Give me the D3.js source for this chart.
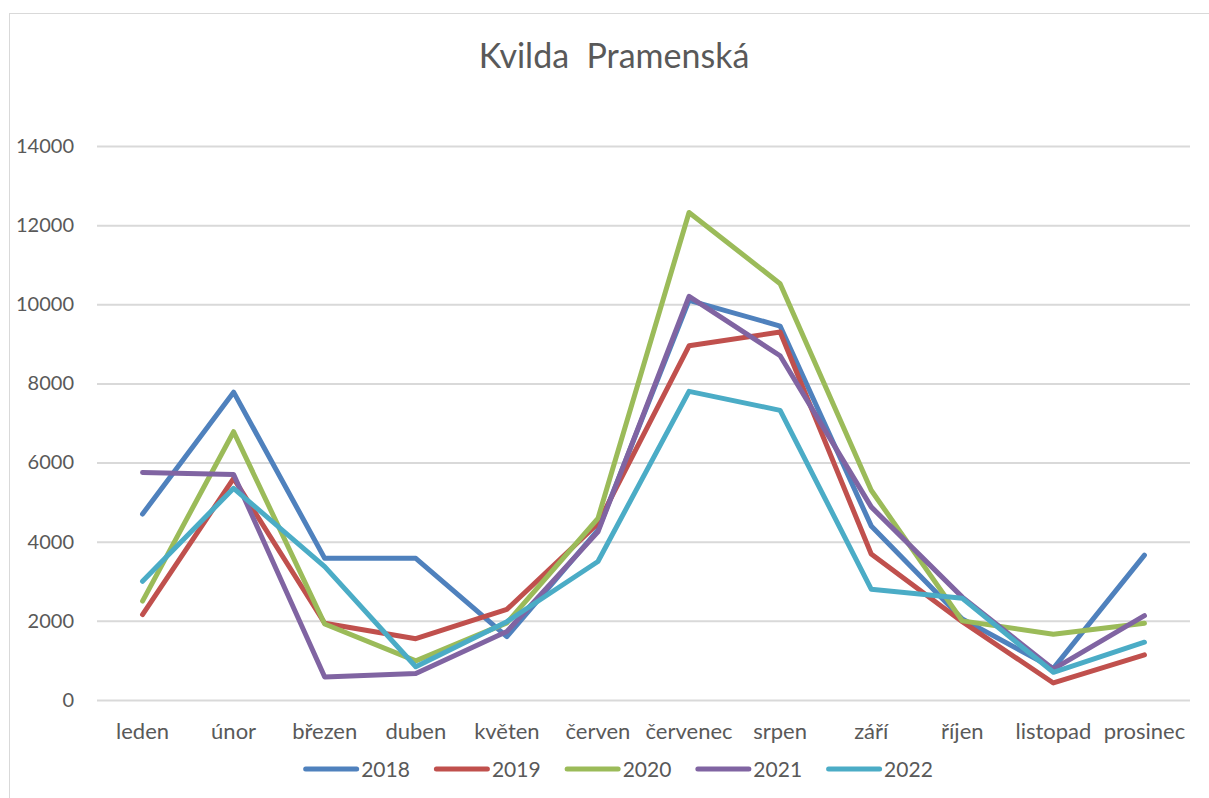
<!DOCTYPE html>
<html>
<head>
<meta charset="utf-8">
<script src="https://cdn.jsdelivr.net/npm/d3@7"></script>
<style>
  body { margin: 0; background: #fff; }
  svg { display: block; font-family: Lato, "Open Sans", sans-serif; }
</style>
</head>
<body>
<div id="chart"></div>
<script>
// Monthly visitors, Kvilda Pramenská
const months = ["leden", "únor", "březen", "duben", "květen", "červen",
  "červenec", "srpen", "září", "říjen", "listopad", "prosinec"];
const years = ["2018", "2019", "2020", "2021", "2022"];
const colors = ["#4F81BD", "#C0504D", "#9BBB59", "#8064A2", "#4BACC6"];

const v2018 = [4700, 7780, 3580, 3580, 1600, 4290, 10100, 9450, 4400, 2050, 800, 3660];
const v2019 = [2160, 5600, 1940, 1550, 2290, 4460, 8950, 9300, 3690, 1980, 430, 1140];
const v2020 = [2500, 6780, 1920, 990, 1950, 4590, 12320, 10520, 5300, 2000, 1660, 1940];
const v2021 = [5750, 5700, 580, 670, 1730, 4250, 10200, 8700, 4880, 2600, 780, 2130];
const v2022 = [3000, 5350, 3370, 840, 1980, 3500, 7800, 7320, 2800, 2570, 700, 1460];

const yTicks = [0, 2000, 4000, 6000, 8000, 10000, 12000, 14000];

const series = [v2018, v2019, v2020, v2021, v2022].map((values, i) => ({
  name: years[i], color: colors[i], values
}));

const width = 1209, height = 798;
const margin = {top: 146, left: 97, right: 19, bottom: 98};

const svg = d3.select("#chart").append("svg")
  .attr("width", width)
  .attr("height", height);

// chart frame like the Excel chart area
svg.append("rect")
  .attr("x", 9.5).attr("y", 13.5)
  .attr("width", width + 10).attr("height", height + 10)
  .attr("fill", "none")
  .attr("stroke", "#d9d9d9");

const x = d3.scaleBand()
  .domain(months)
  .range([margin.left, width - margin.right]);

const y = d3.scaleLinear()
  .domain([0, 14000])
  .range([height - margin.bottom, margin.top]);

// gridlines + y labels
const yAxis = svg.append("g")
  .attr("transform", `translate(${margin.left},0)`)
  .call(d3.axisLeft(y).tickValues(yTicks).tickSize(-(width - margin.left - margin.right)).tickPadding(23).tickFormat(d3.format("d")));
yAxis.select(".domain").remove();
yAxis.selectAll("line").attr("stroke", "#d9d9d9").attr("stroke-width", 2);
yAxis.selectAll("text").attr("fill", "#595959").style("font-size", "20px").style("font-family", "Lato");

// month labels
const xAxis = svg.append("g")
  .attr("transform", `translate(0,${height - margin.bottom})`)
  .call(d3.axisBottom(x).tickSize(0).tickPadding(23));
xAxis.select(".domain").remove();
xAxis.selectAll("text").attr("fill", "#595959").style("font-size", "22px").style("font-family", "Lato");

const line = d3.line()
  .x((d, i) => x(months[i]) + x.bandwidth() / 2)
  .y(d => y(d));

svg.append("g").selectAll("path")
  .data(series)
  .join("path")
  .attr("d", d => line(d.values))
  .attr("fill", "none")
  .attr("stroke", d => d.color)
  .attr("stroke-width", 5)
  .attr("stroke-linejoin", "round")
  .attr("stroke-linecap", "round");

// title (two spaces kept as in the original)
svg.append("text")
  .attr("x", 614)
  .attr("y", 68)
  .attr("text-anchor", "middle")
  .attr("fill", "#595959")
  .style("font-size", "34px")
  .style("white-space", "pre")
  .text("Kvilda  Pramenská");

// legend, laid out by measured text width
const legend = svg.append("g");
let lx = 0;
series.forEach(s => {
  const g = legend.append("g").attr("transform", `translate(${lx},0)`);
  g.append("line")
    .attr("x1", 2.5).attr("x2", 53.5)
    .attr("y1", 769).attr("y2", 769)
    .attr("stroke", s.color)
    .attr("stroke-width", 5)
    .attr("stroke-linecap", "round");
  const t = g.append("text")
    .attr("x", 58).attr("y", 777)
    .attr("fill", "#595959")
    .style("font-size", "21px")
    .text(s.name);
  lx += 58 + t.node().getComputedTextLength() + 24;
});
const legendW = lx - 24;
legend.attr("transform", `translate(${618 - legendW / 2},0)`);
</script>
</body>
</html>
